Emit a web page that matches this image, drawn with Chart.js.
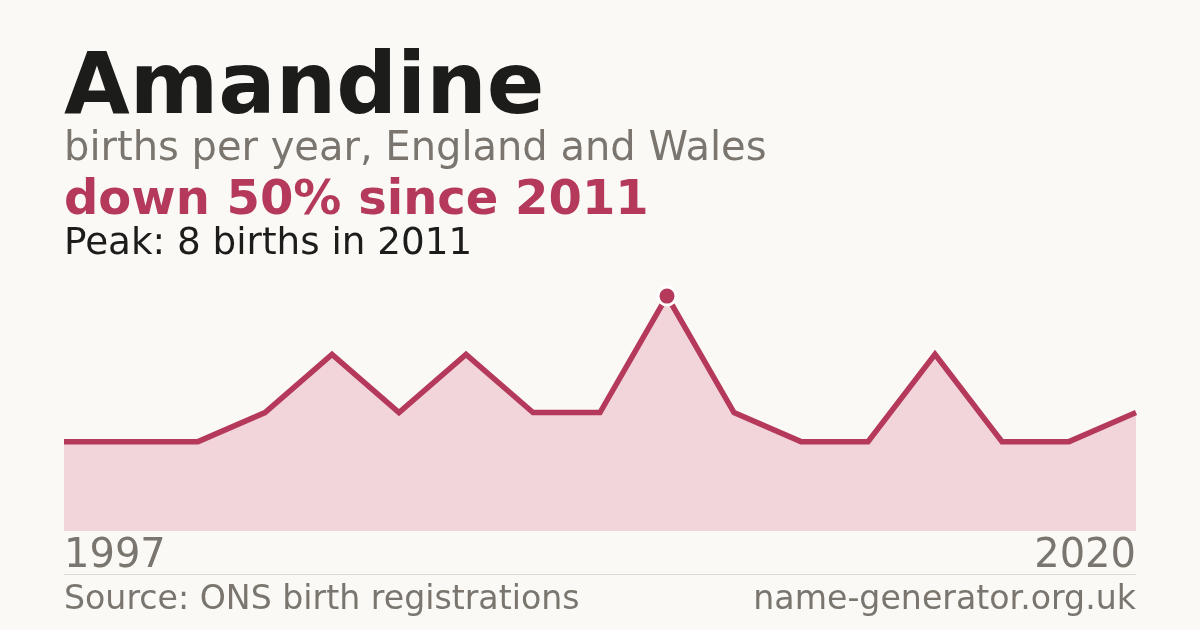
<!DOCTYPE html>
<html>
<head>
<meta charset="utf-8">
<script src="https://cdn.jsdelivr.net/npm/chart.js@4.4.1/dist/chart.umd.min.js"></script>
<style>
  html, body { margin: 0; padding: 0; background: #faf9f5; }
  body { width: 1200px; height: 630px; position: relative; overflow: hidden; font-family: "DejaVu Sans", sans-serif; }
  .t { position: absolute; left: 64px; line-height: 1; white-space: nowrap; }
  #wrap { position: absolute; left: 0; top: 0; width: 1200px; height: 630px; }
  #rule { position: absolute; left: 64px; top: 574px; width: 1072px; height: 1px; background: #dcdad4; }
</style>
</head>
<body>
<div id="wrap"><canvas id="chart"></canvas></div>
<div class="t" style="top:41px;font-size:85px;font-weight:bold;color:#1c1c1a;">Amandine</div>
<div class="t" style="top:126px;font-size:40px;color:#7a766f;">births per year, England and Wales</div>
<div class="t" style="top:173px;font-size:48px;font-weight:bold;color:#b5395a;">down 50% since 2011</div>
<div class="t" style="top:223px;font-size:37.3px;color:#1c1c1a;">Peak: 8 births in 2011</div>
<div id="rule"></div>
<div class="t" style="top:581px;font-size:33.2px;color:#7a766f;">Source: ONS birth registrations</div>
<div class="t" style="top:581px;left:auto;right:64px;font-size:33.2px;color:#7a766f;">name-generator.org.uk</div>
<script>
// years with published counts
const years = ['1997', '1998', '1999', '2001', '2003', '2004', '2006', '2008', '2010',
  '2011', '2012', '2014', '2015', '2017', '2018', '2019', '2020'];
const births = [3, 3, 3, 4, 6, 4, 6, 4, 4, 8, 4, 3, 3, 6, 3, 3, 4];

const peakIndex = births.indexOf(Math.max(...births));

let ctx = document.getElementById('chart').getContext('2d');

let myChart = new Chart(ctx, {
  type: 'line',
  data: {
    labels: years,
    datasets: [{
      data: births,
      fill: 'start',
      tension: 0,
      borderWidth: 5.5,
      borderColor: '#b5395a',
      backgroundColor: '#f2d5da',
      pointRadius: births.map((v, i) => i === peakIndex ? 9 : 0),
      pointBackgroundColor: '#b5395a',
      pointBorderColor: '#ffffff',
      pointBorderWidth: 3,
      pointHoverRadius: 0,
    }]
  },
  options: {
    responsive: true,
    maintainAspectRatio: false,
    animation: false,
    layout: {
      padding: { left: 64, right: 64, top: 267, bottom: 47 }
    },
    plugins: {
      legend: { display: false },
      tooltip: { enabled: false },
    },
    scales: {
      x: {
        offset: false,
        grid: { display: false, drawTicks: false },
        border: { display: false },
        ticks: {
          autoSkip: false,
          maxRotation: 0,
          align: 'inner',
          padding: 2,
          color: '#7a766f',
          font: { family: 'DejaVu Sans', size: 40 },
          callback: function (val, i) {
            return (i === 0 || i === years.length - 1) ? years[i] : '';
          }
        }
      },
      y: {
        display: false,
        min: -0.07,
        max: 9,
      }
    }
  }
});
</script>
</body>
</html>
